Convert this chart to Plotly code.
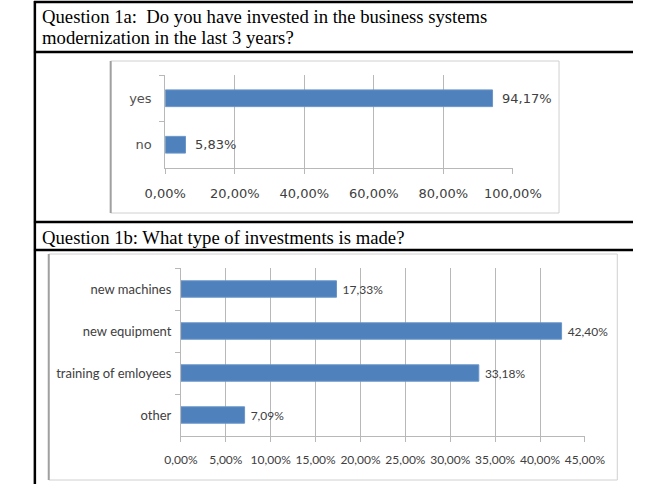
import plotly.graph_objects as go

W, H = 662, 484

# ---------------- data ----------------
q1a_text = ["Question 1a:  Do you have invested in the business systems",
            "modernization in the last 3 years?"]
q1a_categories = ["yes", "no"]
q1a_values = [94.17, 5.83]
q1a_ticks = [0, 20, 40, 60, 80, 100]

q1b_text = "Question 1b: What type of investments is made?"
q1b_categories = ["new machines", "new equipment", "training of emloyees", "other"]
q1b_values = [17.33, 42.40, 33.18, 7.09]
q1b_ticks = [0, 5, 10, 15, 20, 25, 30, 35, 40, 45]


def pct_label(v):
    return f"{v:.2f}%".replace(".", ",")


# ---------------- helpers ----------------
def px(x):
    return x / W


def py(y):
    return 1 - y / H


BAR = "#4F81BD"
GRID = "#B8B8B8"
TXT = "#404040"
F1 = "DejaVu Sans"
F2 = "Lato"
QF = dict(family="Liberation Serif", size=18.7, color="black")

fig = go.Figure()

fig.add_trace(go.Bar(
    x=q1a_values, y=q1a_categories, orientation="h",
    xaxis="x", yaxis="y", width=0.36,
    marker=dict(color=BAR, line=dict(color="#6A95C9", width=1)),
    texttemplate="\u2002%{x:.2f}%", textposition="outside",
    textfont=dict(family=F1, size=13, color=TXT),
    cliponaxis=False, showlegend=False, hoverinfo="skip",
))

fig.add_trace(go.Bar(
    x=q1b_values, y=q1b_categories, orientation="h",
    xaxis="x2", yaxis="y2", width=0.39,
    marker=dict(color=BAR, line=dict(color="#6A95C9", width=1)),
    texttemplate="\u00a0%{x:.2f}%", textposition="outside",
    textfont=dict(family=F2, size=12, color=TXT),
    cliponaxis=False, showlegend=False, hoverinfo="skip",
))

common_x = dict(
    showgrid=True, gridcolor=GRID, gridwidth=1,
    zeroline=False, showline=True, linecolor=GRID, linewidth=1,
    ticks="outside", ticklen=5, tickcolor=GRID, fixedrange=True,
)
common_y = dict(
    type="category", showgrid=False, zeroline=False, showline=True,
    linecolor=GRID, linewidth=1, ticks="outside", tickson="boundaries",
    ticklen=5, tickcolor=GRID, fixedrange=True,
)

fig.update_layout(
    width=W, height=H, margin=dict(l=0, r=0, t=0, b=0),
    paper_bgcolor="white", plot_bgcolor="white",
    separators=", ",
    xaxis=dict(domain=[px(156), px(532)], range=[0, 100],
               tickmode="array", tickvals=q1a_ticks,
               ticktext=[pct_label(v) for v in q1a_ticks],
               anchor="y", tickfont=dict(family=F1, size=13, color=TXT),
               ticklabelstandoff=8, **common_x),
    yaxis=dict(domain=[py(168), py(75)], anchor="x",
               range=[len(q1a_categories) - 0.5, -0.5],
               tickfont=dict(family=F1, size=13, color="#505050"),
               ticklabelstandoff=10, **common_y),
    xaxis2=dict(domain=[px(173), px(610)], range=[0, 45],
                tickmode="array", tickvals=q1b_ticks,
                ticktext=[pct_label(v) for v in q1b_ticks],
                anchor="y2", tickfont=dict(family=F2, size=12, color=TXT),
                ticklabelstandoff=8, **common_x),
    yaxis2=dict(domain=[py(436), py(268)], anchor="x2",
                range=[len(q1b_categories) - 0.5, -0.5],
                tickfont=dict(family=F2, size=13, color=TXT),
                ticklabelstandoff=6, **common_y),
)

shapes = []
# table lines
for y in [2, 52, 222, 250]:
    shapes.append(dict(type="line", xref="paper", yref="paper",
                       x0=px(14), x1=1, y0=py(y), y1=py(y),
                       line=dict(color="black", width=2.5)))
shapes.append(dict(type="line", xref="paper", yref="paper",
                   x0=px(15), x1=px(15), y0=py(1), y1=0,
                   line=dict(color="black", width=2.5)))
# chart boxes
for (x0, y0, x1, y1) in [(97, 61, 582, 213), (30, 254, 645, 480)]:
    shapes.append(dict(type="rect", xref="paper", yref="paper",
                       x0=px(x0), x1=px(x1), y0=py(y1), y1=py(y0),
                       line=dict(color="#D0D0D0", width=1)))
    shapes.append(dict(type="line", xref="paper", yref="paper",
                       x0=px(x0), x1=px(x0), y0=py(y1), y1=py(y0),
                       line=dict(color="#A0A0A0", width=2)))
fig.update_layout(shapes=shapes)

ann = []
for i, t in enumerate(q1a_text):
    ann.append(dict(text=t, xref="paper", yref="paper", x=px(21), y=py(16 + 22 * i),
                    xanchor="left", yanchor="middle", showarrow=False, font=QF))
ann.append(dict(text=q1b_text, xref="paper", yref="paper", x=px(21), y=py(237),
                xanchor="left", yanchor="middle", showarrow=False, font=QF))
fig.update_layout(annotations=ann)

fig.write_html("out.html")
